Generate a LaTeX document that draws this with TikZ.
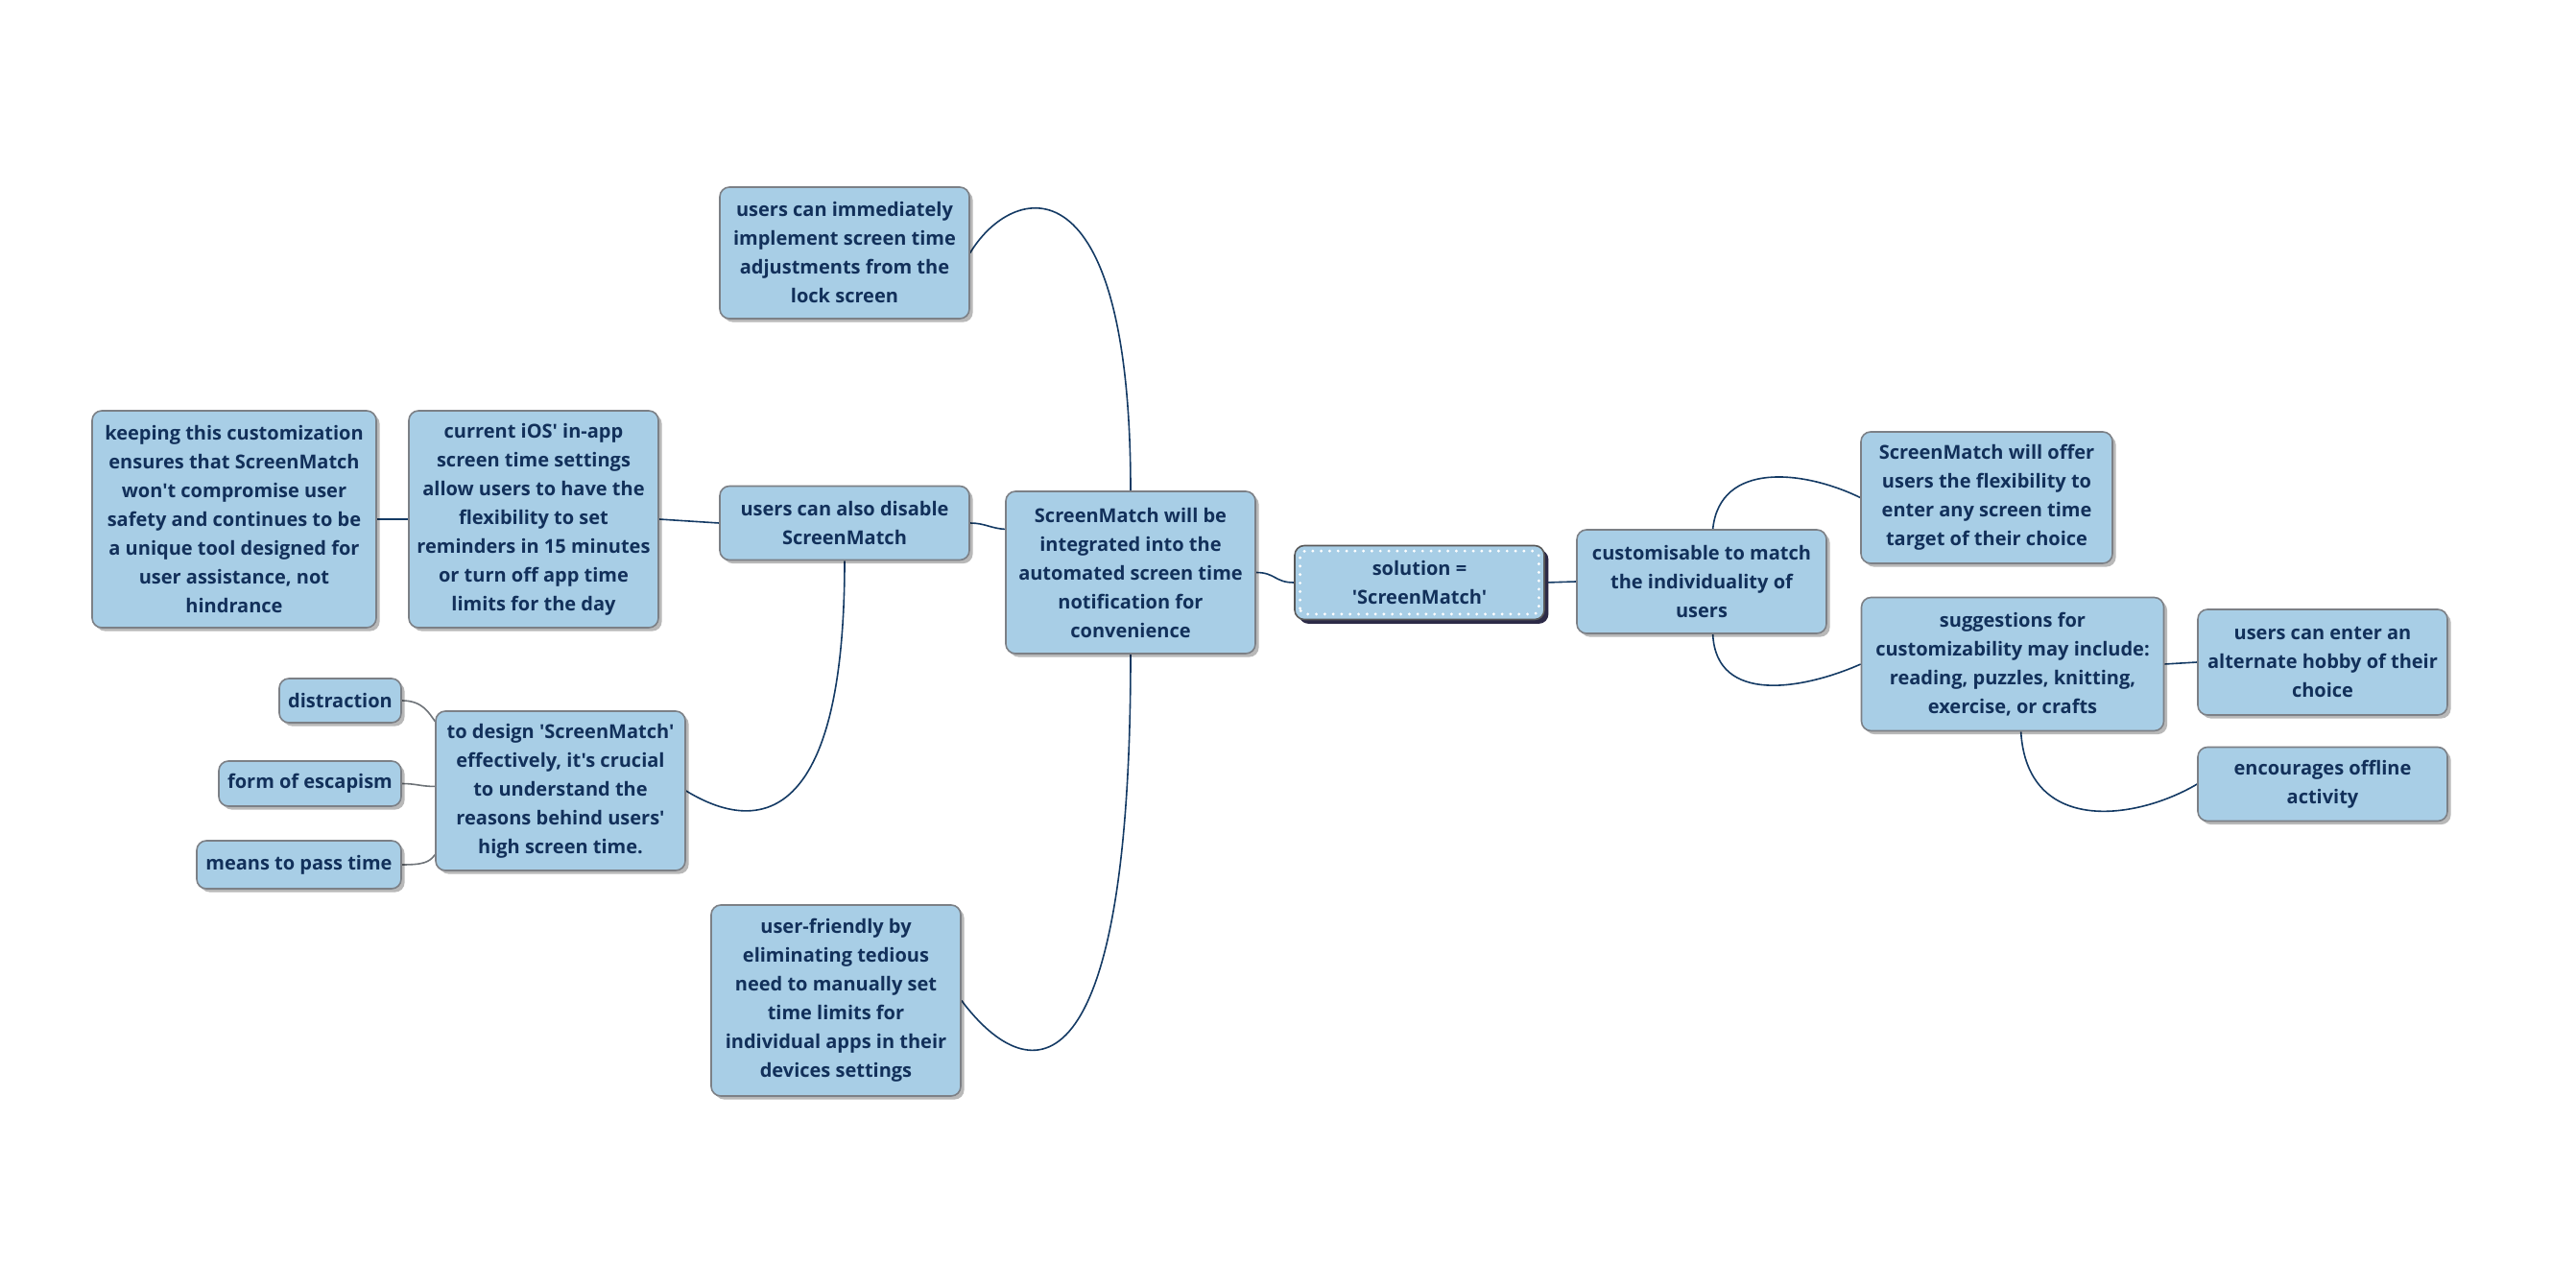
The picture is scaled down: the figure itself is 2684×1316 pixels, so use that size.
\documentclass[tikz,border=0pt]{standalone}
\usepackage{fontspec}
\newfontfamily\boxfont{Open Sans}
\usetikzlibrary{shadows,calc}
\definecolor{boxfill}{HTML}{A8CEE6}
\definecolor{boxline}{HTML}{7C8086}
\definecolor{txt}{HTML}{12305A}
\definecolor{conn}{HTML}{143A64}
\definecolor{conng}{HTML}{6E7378}
\definecolor{rootsh}{HTML}{2C2A47}
\pgfdeclarelayer{bg}
\pgfsetlayers{bg,main}
\begin{document}
\begin{tikzpicture}[x=0.5pt,y=-0.5pt,
  box/.style={rounded corners=5pt, fill=boxfill, draw=boxline, line width=0.8pt,
    text=txt, align=center, inner xsep=3pt, inner ysep=2pt,
    font=\boxfont\bfseries\fontsize{10}{15}\selectfont,
    drop shadow={shadow xshift=1.8pt, shadow yshift=-1.8pt, fill=black, opacity=0.28}},
  rootbox/.style={box, draw=black!65,
    drop shadow={shadow xshift=2.2pt, shadow yshift=-2.2pt, fill=rootsh, opacity=1}},
  link/.style={draw=conn, line width=0.8pt},
  glink/.style={draw=conng, line width=0.8pt}]
\useasboundingbox (0,0) rectangle (2684,1316);

% right side
\node[rootbox, minimum width=130pt, minimum height=38.5pt] (root) at (1479,607) {solution =\\'ScreenMatch'};
\draw[white, line width=1.6pt, dash pattern=on 0pt off 4.4pt, line cap=round, rounded corners=3pt]
  ($(root.south west)+(3.2pt,3.2pt)$) rectangle ($(root.north east)+(-3.2pt,-3.2pt)$);
\node[box, minimum width=130pt, minimum height=54pt] (custom) at (1773,606) {customisable to match\\the individuality of\\users};
\node[box, minimum width=131pt, minimum height=68.5pt] (offer) at (2070,518.5) {ScreenMatch will offer\\users the flexibility to\\enter any screen time\\target of their choice};
\node[box, minimum width=157.5pt, minimum height=69.5pt] (sugg) at (2097,692) {suggestions for\\customizability may include:\\reading, puzzles, knitting,\\exercise, or crafts};
\node[box, minimum width=130pt, minimum height=55pt] (hobby) at (2420,690) {users can enter an\\alternate hobby of their\\choice};
\node[box, minimum width=130pt, minimum height=38.5pt] (offline) at (2420,817) {encourages offline\\activity};

% centre and left side
\node[box, minimum width=130pt, minimum height=84.5pt] (central) at (1178,596.5) {ScreenMatch will be\\integrated into the\\automated screen time\\notification for\\convenience};
\node[box, minimum width=130pt, minimum height=68.5pt] (imm) at (880,263.5) {users can immediately\\implement screen time\\adjustments from the\\lock screen};
\node[box, minimum width=130pt, minimum height=38.5pt] (disable) at (880,545) {users can also disable\\ScreenMatch};
\node[box, minimum width=130pt, minimum height=99.5pt] (uf) at (871,1042.5) {user-friendly by\\eliminating tedious\\need to manually set\\time limits for\\individual apps in their\\devices settings};
\node[box, minimum width=130pt, minimum height=113pt] (current) at (556,541) {current iOS' in-app\\screen time settings\\allow users to have the\\flexibility to set\\reminders in 15 minutes\\or turn off app time\\limits for the day};
\node[box, minimum width=148pt, minimum height=113pt] (keeping) at (244,541) {keeping this customization\\ensures that ScreenMatch\\won't compromise user\\safety and continues to be\\a unique tool designed for\\user assistance, not\\hindrance};
\node[box, minimum width=130pt, minimum height=83pt] (design) at (584,824) {to design 'ScreenMatch'\\effectively, it's crucial\\to understand the\\reasons behind users'\\high screen time.};
\node[box, minimum width=63.5pt, minimum height=23pt] (distr) at (354.5,730) {distraction};
\node[box, minimum width=95pt, minimum height=23.5pt] (escap) at (323,816.5) {form of escapism};
\node[box, minimum width=106.5pt, minimum height=25pt] (pass) at (311.5,901) {means to pass time};

\begin{pgfonlayer}{bg}
\draw[link] (central.east) .. controls +(20,0) and +(-20,0) .. (root.west);
\draw[link] (root.east) -- (custom.west);
\draw[link] (custom.78) .. controls (1792,480) and (1880,490) .. (offer.west);
\draw[link] (custom.282) .. controls (1788,735) and (1880,718) .. (sugg.west);
\draw[link] (sugg.east) -- (hobby.west);
\draw[link] (sugg.277) .. controls (2112,870) and (2225,855) .. (offline.west);
\draw[link] (central.north) .. controls (1178,160) and (1055,190) .. (imm.east);
\draw[link] (central.161) .. controls +(-15,-1) and +(15,0) .. (disable.east);
\draw[link] (central.south) .. controls (1178,1140) and (1075,1140) .. (uf.east);
\draw[link] (disable.west) -- (current.east);
\draw[link] (disable.south) .. controls (880,860) and (790,870) .. (design.east);
\draw[link] (current.west) -- (keeping.east);
\draw[glink] (distr.east) .. controls +(22,0) and +(-6,-8) .. (design.151);
\draw[glink] (escap.east) .. controls +(15,0) and +(-15,0) .. (design.178);
\draw[glink] (pass.east) .. controls +(22,0) and +(-6,8) .. (design.207);
\end{pgfonlayer}
\end{tikzpicture}
\end{document}
